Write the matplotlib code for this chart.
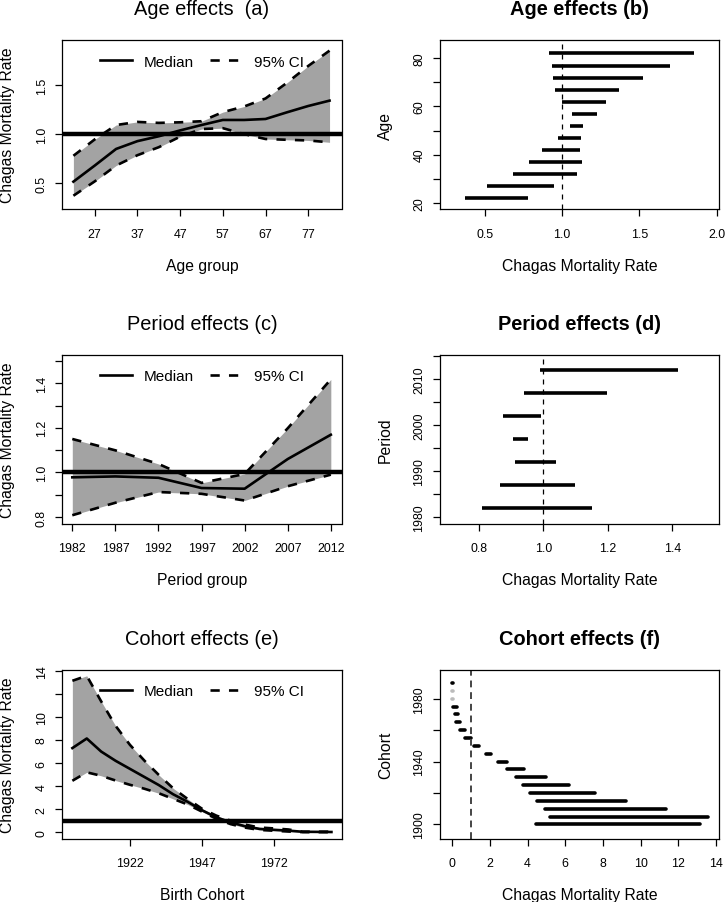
import matplotlib
matplotlib.use('Agg')
import matplotlib.pyplot as plt
from matplotlib.lines import Line2D

plt.rcParams['font.family'] = ['Liberation Sans', 'DejaVu Sans']

# Age effects
age = [22, 27, 32, 37, 42, 47, 52, 57, 62, 67, 72, 77, 82]
age_median = [0.515, 0.68, 0.85, 0.93, 0.98, 1.04, 1.095, 1.147, 1.147, 1.157, 1.225, 1.29, 1.345]
age_lower = [0.371, 0.518, 0.680, 0.786, 0.868, 0.976, 1.054, 1.063, 1.002, 0.952, 0.944, 0.937, 0.918]
age_upper = [0.780, 0.948, 1.095, 1.127, 1.117, 1.123, 1.134, 1.227, 1.285, 1.367, 1.527, 1.700, 1.857]

# Period effects
period = [1982, 1987, 1992, 1997, 2002, 2007, 2012]
period_median = [0.978, 0.982, 0.976, 0.930, 0.927, 1.060, 1.169]
period_lower = [0.808, 0.864, 0.912, 0.904, 0.874, 0.938, 0.990]
period_upper = [1.150, 1.099, 1.038, 0.953, 0.993, 1.198, 1.417]

# Cohort effects (birth cohort for panel e, cohort axis of panel f)
cohort = [1902, 1907, 1912, 1917, 1922, 1927, 1932, 1937, 1942, 1947,
          1952, 1957, 1962, 1967, 1972, 1977, 1982, 1987, 1992]
cohort_f = [1900, 1905, 1910, 1915, 1920, 1925, 1930, 1935, 1940, 1945,
            1950, 1955, 1960, 1965, 1970, 1975, 1980, 1985, 1990]
cohort_median = [7.3, 8.13, 7.0, 6.2, 5.5, 4.8, 4.1, 3.3, 2.65, 1.92,
                 1.3, 0.86, 0.53, 0.3, 0.22, 0.15, 0.05, 0.04, 0.03]
cohort_lower = [4.47, 5.20, 4.90, 4.49, 4.12, 3.78, 3.39, 2.90, 2.42, 1.80,
                1.18, 0.71, 0.41, 0.21, 0.14, 0.07, 0.02, 0.02, 0.01]
cohort_upper = [13.13, 13.56, 11.35, 9.23, 7.58, 6.22, 4.98, 3.82, 2.90, 2.05,
                1.45, 1.01, 0.67, 0.42, 0.34, 0.25, 0.05, 0.05, 0.06]

ylab = 'Chagas Mortality Rate'
fill_grey = '#A3A3A3'
dash = (0, (3.5, 3.5))

fig = plt.figure(figsize=(7.25, 9.03), dpi=100)
W, H = 725, 903
rows_top = [41, 355.7, 670.7]
ax_h = 169
cols_left = [62.3, 440]
ax_w = 279.2


def make_ax(r, c):
    left = cols_left[c] / W
    bottom = 1 - (rows_top[r] + ax_h) / H
    return fig.add_axes([left, bottom, ax_w / W, ax_h / H])


def style(ax, title, xlabel, ylabel, bold):
    ax.set_title(title, fontsize=14.4, fontweight='bold' if bold else 'normal',
                 y=1.185, va='center', pad=0)
    ax.set_xlabel(xlabel, fontsize=11.3, va='center')
    ax.xaxis.set_label_coords(0.5, -0.332)
    ax.set_ylabel(ylabel, fontsize=11.3, va='center')
    ax.yaxis.set_label_coords(-0.196, 0.5)
    ax.tick_params(direction='out', length=5, width=0.9, labelsize=8.9)
    ax.tick_params(axis='x', pad=8.5)
    ax.tick_params(axis='y', pad=5.5)
    for lab in ax.get_yticklabels():
        lab.set_rotation(90)
        lab.set_va('center')
    for s in ax.spines.values():
        s.set_linewidth(0.9)


def effect_panel(ax, x, med, lo, hi, xlim, ylim, xticks, yticks, ylabels):
    ax.fill_between(x, lo, hi, color=fill_grey, lw=0)
    ax.plot(x, lo, color='black', lw=1.9, ls=dash)
    ax.plot(x, hi, color='black', lw=1.9, ls=dash)
    ax.plot(x, med, color='black', lw=1.9)
    ax.axhline(1, color='black', lw=3.2)
    ax.set_xlim(xlim)
    ax.set_ylim(ylim)
    ax.set_xticks(xticks)
    ax.set_yticks(yticks)
    ax.set_yticklabels(ylabels)
    handles = [Line2D([], [], color='black', lw=1.9),
               Line2D([], [], color='black', lw=1.9, ls=dash)]
    ax.legend(handles, ['Median', '95% CI'], loc='upper center', ncol=2, frameon=False,
              fontsize=11, handlelength=2.1, handletextpad=0.8, columnspacing=1.0,
              borderaxespad=0.55)


def interval_panel(ax, y, lo, hi, xlim, ylim, xticks, yticks, ylabels, colors=None,
                   vstyle=None, cap='butt'):
    if colors is None:
        colors = ['black'] * len(y)
    ax.hlines(y, lo, hi, colors=colors, lw=2.6, capstyle=cap)
    if vstyle is None:
        ax.axvline(1, color='black', lw=0.9, ls=(0, (4, 4)))
    else:
        ax.axvline(1, **vstyle)
    ax.set_xlim(xlim)
    ax.set_ylim(ylim)
    ax.set_xticks(xticks)
    ax.set_yticks(yticks)
    ax.set_yticklabels(ylabels)


# (a)
ax = make_ax(0, 0)
effect_panel(ax, age, age_median, age_lower, age_upper, (19.4, 84.8), (0.235, 1.966),
             [27, 37, 47, 57, 67, 77], [0.5, 1.0, 1.5], ['0.5', '1.0', '1.5'])
style(ax, 'Age effects  (a)', 'Age group', ylab, False)

# (b)
ax = make_ax(0, 1)
interval_panel(ax, age, age_lower, age_upper, (0.211, 2.017), (17.4, 87.6),
               [0.5, 1.0, 1.5, 2.0], [20, 30, 40, 50, 60, 70, 80],
               ['20', '', '40', '', '60', '', '80'])
ax.set_xticklabels(['0.5', '1.0', '1.5', '2.0'])
style(ax, 'Age effects (b)', ylab, 'Age', True)

# (c)
ax = make_ax(1, 0)
effect_panel(ax, period, period_median, period_lower, period_upper, (1980.84, 2013.24),
             (0.77, 1.528), period,
             [0.8, 0.9, 1.0, 1.1, 1.2, 1.3, 1.4, 1.5],
             ['0.8', '', '1.0', '', '1.2', '', '1.4', ''])
style(ax, 'Period effects (c)', 'Period group', ylab, False)

# (d)
ax = make_ax(1, 1)
interval_panel(ax, period, period_lower, period_upper, (0.679, 1.545), (1978.55, 2015.3),
               [0.8, 1.0, 1.2, 1.4], [1980, 1985, 1990, 1995, 2000, 2005, 2010, 2015],
               ['1980', '', '1990', '', '2000', '', '2010', ''])
ax.set_xticklabels(['0.8', '1.0', '1.2', '1.4'])
style(ax, 'Period effects (d)', ylab, 'Period', True)

# (e)
ax = make_ax(2, 0)
effect_panel(ax, cohort, cohort_median, cohort_lower, cohort_upper, (1898.5, 1995.5),
             (-0.55, 14.09), [1922, 1947, 1972], [0, 2, 4, 6, 8, 10, 12, 14],
             ['0', '2', '4', '6', '8', '10', '', '14'])
style(ax, 'Cohort effects (e)', 'Birth Cohort', ylab, False)

# (f)
ax = make_ax(2, 1)
bar_cols = ['#BBBBBB' if c in (1980, 1985) else 'black' for c in cohort_f]
interval_panel(ax, cohort_f, cohort_lower, cohort_upper, (-0.64, 14.16), (1890.9, 1998.5),
               [0, 2, 4, 6, 8, 10, 12, 14], [1900, 1920, 1940, 1960, 1980],
               ['1900', '', '1940', '', '1980'], colors=bar_cols,
               vstyle=dict(color='#444444', lw=1.4, ls=(0, (3.5, 2.5))), cap='round')
style(ax, 'Cohort effects (f)', ylab, 'Cohort', True)

fig.savefig('out.png', dpi=100)
